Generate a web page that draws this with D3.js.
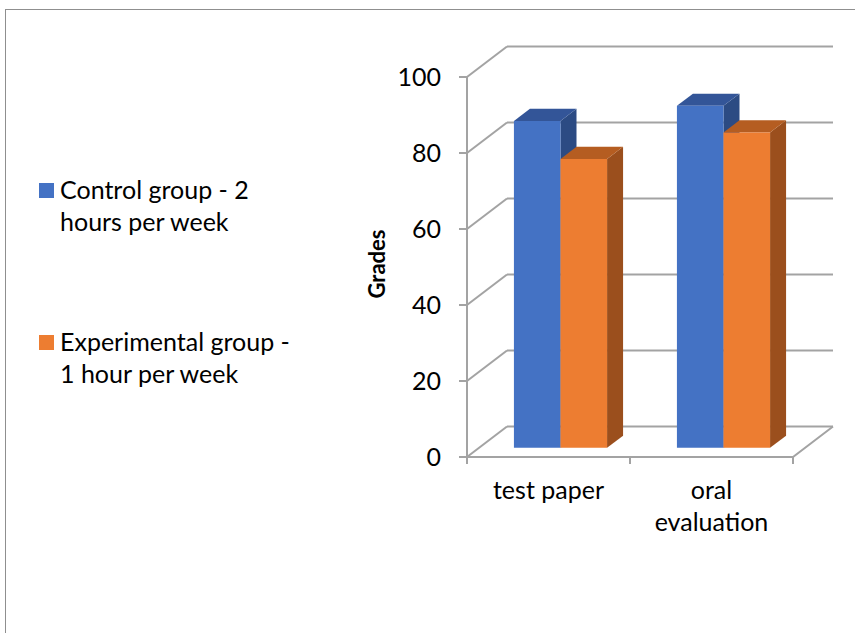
<!DOCTYPE html>
<html>
<head>
<meta charset="utf-8">
<script src="https://cdn.jsdelivr.net/npm/d3@7"></script>
<style>
  html, body { margin: 0; padding: 0; background: #fff; }
  svg { display: block; }
  text { font-family: Lato, "Open Sans", sans-serif; fill: #000; }
</style>
</head>
<body>
<svg id="chart" width="855" height="633"></svg>
<script>
// Chart data
const categories = ["test paper", "oral evaluation"];
const categoryLines = [["test paper"], ["oral", "evaluation"]];
const seriesNames = ["Control group - 2 hours per week", "Experimental group - 1 hour per week"];
const legendLines = [["Control group - 2", "hours per week"], ["Experimental group -", "1 hour per week"]];
const controlValues = [86, 90];
const experimentalValues = [76, 83];
const yTicks = [0, 20, 40, 60, 80, 100];
const axisTitle = "Grades";

// Palette: front, top, side for each series
const palette = [
  { front: "#4472C4", top: "#335598", side: "#2C4B83" },
  { front: "#ED7D31", top: "#B55D21", side: "#9B4F1D" }
];

const svg = d3.select("#chart");

// Outer frame
svg.append("rect")
  .attr("x", 5.5).attr("y", 9.5)
  .attr("width", 870).attr("height", 640)
  .attr("fill", "none").attr("stroke", "#8f8f8f").attr("stroke-width", 1);

// Front plane scales
const x = d3.scaleBand().domain(categories).range([467, 793]).paddingInner(0).paddingOuter(0);
const y = d3.scaleLinear().domain([0, 100]).range([457, 77]);
const sub = d3.scaleBand().domain(d3.range(seriesNames.length)).range([0, x.bandwidth()]).paddingInner(0).paddingOuter(0.75);

// Depth vector for the oblique projection
const DX = 40, DY = -30.5;
const P = (px, py, d) => [px + d * DX, py + d * DY];

const grid = svg.append("g").attr("stroke", "#a3a3a3").attr("stroke-width", 2).attr("fill", "none");
const line = d3.line();

// Back-wall gridlines and left-wall diagonals
yTicks.forEach(t => {
  const yy = y(t);
  grid.append("path").attr("d", line([P(x.range()[0], yy, 1), P(x.range()[1], yy, 1)]));
  grid.append("path").attr("d", line([P(x.range()[0], yy, 0), P(x.range()[0], yy, 1)]));
});
// Floor edges
grid.append("path").attr("d", line([P(x.range()[0], y(0), 0), P(x.range()[1], y(0), 0), P(x.range()[1], y(0), 1)]));
// Front value axis
grid.append("path").attr("d", line([[x.range()[0], y(100)], [x.range()[0], y(0)]]));
// Value axis ticks
yTicks.forEach(t => {
  grid.append("path").attr("d", line([[x.range()[0] - 8, y(t)], [x.range()[0], y(t)]]));
});
// Category ticks
[x.range()[0], ...categories.map(c => x(c) + x.bandwidth())].forEach(px => {
  grid.append("path").attr("d", line([[px, y(0)], [px, y(0) + 7]]));
});

// Bars, drawn left to right so later faces overlap earlier side faces
const d0 = 0.3, d1 = 0.7;
const bars = svg.append("g");
const seriesValues = [controlValues, experimentalValues];
categories.forEach((c, ci) => {
  seriesValues.forEach((vals, si) => {
    const v = vals[ci];
    const xl = x(c) + sub(si);
    const xr = xl + sub.bandwidth();
    const col = palette[si];
    const fbl = P(xl, y(0), d0), fbr = P(xr, y(0), d0);
    const ftl = P(xl, y(v), d0), ftr = P(xr, y(v), d0);
    const bbr = P(xr, y(0), d1), btl = P(xl, y(v), d1), btr = P(xr, y(v), d1);
    // side face
    bars.append("path").attr("d", line([fbr, ftr, btr, bbr]) + "Z").attr("fill", col.side);
    // top face
    bars.append("path").attr("d", line([ftl, ftr, btr, btl]) + "Z").attr("fill", col.top);
    // front face
    bars.append("path").attr("d", line([fbl, fbr, ftr, ftl]) + "Z").attr("fill", col.front);
  });
});

// Value labels
svg.append("g").selectAll("text").data(yTicks).join("text")
  .attr("x", 441).attr("y", d => y(d)).attr("dy", "0.36em")
  .attr("text-anchor", "end").attr("font-size", 25)
  .text(d => d);

// Axis title
svg.append("text")
  .attr("transform", "translate(385,264) rotate(-90)")
  .attr("text-anchor", "middle").attr("font-size", 22).attr("font-weight", "bold")
  .text(axisTitle);

// Category labels
categories.forEach((c, ci) => {
  const cx = x(c) + x.bandwidth() / 2;
  categoryLines[ci].forEach((ln, li) => {
    svg.append("text").attr("x", cx).attr("y", 499 + li * 32)
      .attr("text-anchor", "middle").attr("font-size", 25).text(ln);
  });
});

// Legend
const legendTop = [183, 335];
seriesNames.forEach((s, si) => {
  const g = svg.append("g");
  g.append("rect").attr("x", 39).attr("y", legendTop[si]).attr("width", 15).attr("height", 15)
    .attr("fill", palette[si].front);
  legendLines[si].forEach((ln, li) => {
    g.append("text").attr("x", 60).attr("y", legendTop[si] + 16 + li * 32)
      .attr("font-size", 25).text(ln);
  });
});
</script>
</body>
</html>
